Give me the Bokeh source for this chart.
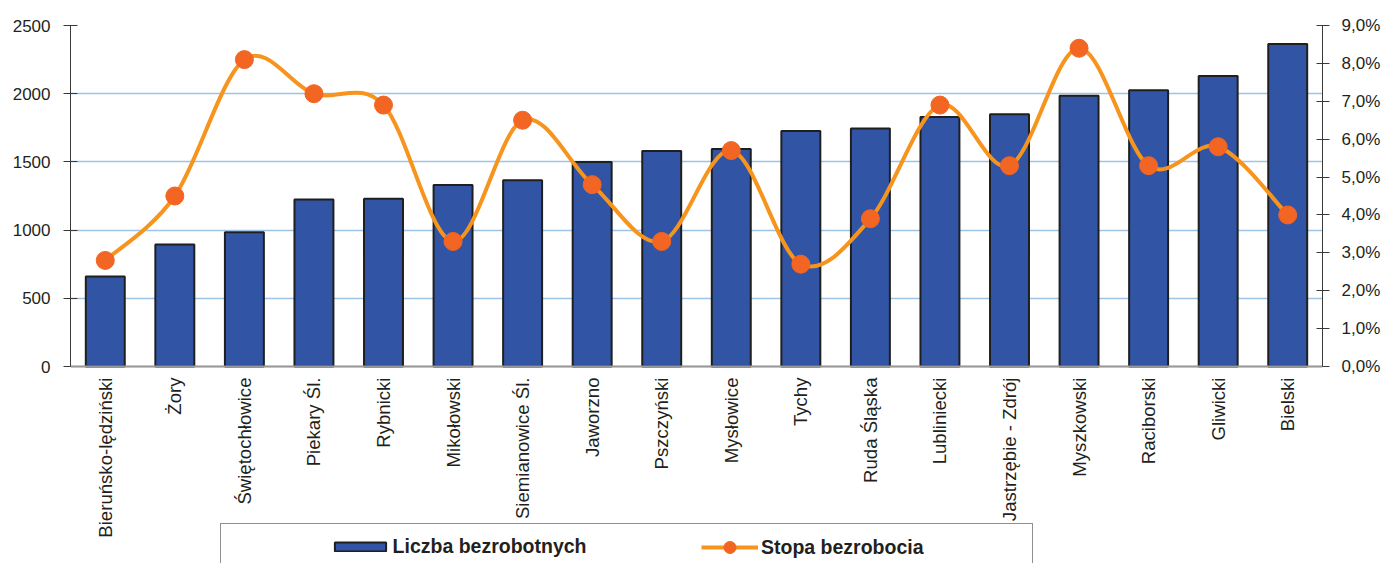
import numpy as np
from bokeh.plotting import figure
from bokeh.models import Range1d, LinearAxis, FixedTicker, Legend, LegendItem, Span
from bokeh.core.properties import value
from bokeh.embed import file_html
from bokeh.resources import INLINE

# ---------------- data ----------------
categories = ["Bieruńsko-lędziński", "Żory", "Świętochłowice", "Piekary Śl.", "Rybnicki",
              "Mikołowski", "Siemianowice Śl.", "Jaworzno", "Pszczyński", "Mysłowice",
              "Tychy", "Ruda Śląska", "Lubliniecki", "Jastrzębie - Zdrój", "Myszkowski",
              "Raciborski", "Gliwicki", "Bielski"]
unemployed = [660, 895, 985, 1225, 1230, 1330, 1365, 1500, 1580, 1595,
              1727, 1744, 1830, 1850, 1985, 2025, 2130, 2365]
rate = [2.8, 4.5, 8.1, 7.2, 6.9, 3.3, 6.5, 4.8, 3.3, 5.7,
        2.7, 3.9, 6.9, 5.3, 8.4, 5.3, 5.8, 4.0]
left_ticks = [0, 500, 1000, 1500, 2000, 2500]
right_ticks = [0, 1, 2, 3, 4, 5, 6, 7, 8, 9]
right_tick_labels = ["0,0%", "1,0%", "2,0%", "3,0%", "4,0%", "5,0%", "6,0%", "7,0%", "8,0%", "9,0%"]
series_names = ["Liczba bezrobotnych", "Stopa bezrobocia"]

FONT = "Liberation Sans"
n = len(categories)
xs = [i + 0.5 for i in range(n)]

# layout: value area spans 341px (top 25 -> 366); the frame continues 197px lower
# so that category labels and the legend can sit beneath the bars
W, H = 1383, 563
top_px, zero_px = 25, 366
ext = (H - zero_px) / (zero_px - top_px)
left_max, right_max = left_ticks[-1], right_ticks[-1]

p = figure(width=W, height=H, x_range=Range1d(0, n),
           y_range=Range1d(-left_max * ext, left_max),
           output_backend="svg", toolbar_location=None, x_axis_location=None,
           min_border_left=70, min_border_right=61, min_border_top=top_px, min_border_bottom=0)
p.outline_line_color = None
p.background_fill_color = "white"
p.border_fill_color = "white"
p.extra_y_ranges = {"rate": Range1d(-right_max * ext, right_max)}

# grid
p.xgrid.visible = False
p.ygrid.ticker = FixedTicker(ticks=left_ticks)
p.ygrid.grid_line_color = "#9dc3e6"
p.ygrid.grid_line_width = 1.6

# left axis
la = p.yaxis[0]
la.ticker = FixedTicker(ticks=left_ticks)
la.bounds = (0, left_max)
la.axis_line_color = "#3a3a3a"
la.major_tick_line_color = "#3a3a3a"
la.major_tick_in = 7
la.major_tick_out = 7
la.minor_tick_line_color = None
la.major_label_text_font = FONT
la.major_label_text_font_size = "17px"
la.major_label_text_color = "#231f20"
la.major_label_standoff = 13

# right axis
ra = LinearAxis(y_range_name="rate", ticker=FixedTicker(ticks=right_ticks),
                major_label_overrides=dict(zip(right_ticks, right_tick_labels)),
                bounds=(0, right_max))
ra.axis_line_color = "#3a3a3a"
ra.major_tick_line_color = "#3a3a3a"
ra.major_tick_in = 6
ra.major_tick_out = 7
ra.minor_tick_line_color = None
ra.major_label_text_font = FONT
ra.major_label_text_font_size = "17px"
ra.major_label_text_color = "#231f20"
ra.major_label_standoff = 12
p.add_layout(ra, "right")

# category baseline
p.add_layout(Span(location=0, dimension="width", line_color="#9a9a9a", line_width=2))

# bars
bars = p.vbar(x=xs, top=unemployed, width=0.56, fill_color="#3155a4",
              line_color="#1f1f1f", line_width=2)

# smoothed line (bezier control points as in spreadsheet smoothing)
px = np.array(xs, dtype=float)
py = np.array(rate, dtype=float)
prev_x = np.concatenate([[px[0]], px[:-1]])
prev_y = np.concatenate([[py[0]], py[:-1]])
next_x = np.concatenate([px[1:], [px[-1]]])
next_y = np.concatenate([py[1:], [py[-1]]])
tx = (next_x - prev_x) / 6.0
ty = (next_y - prev_y) / 6.0
curve = p.bezier(x0=px[:-1], y0=py[:-1], x1=px[1:], y1=py[1:],
                 cx0=px[:-1] + tx[:-1], cy0=py[:-1] + ty[:-1],
                 cx1=px[1:] - tx[1:], cy1=py[1:] - ty[1:],
                 line_color="#f7941d", line_width=4, y_range_name="rate")
pts = p.scatter(x=xs, y=rate, size=18, fill_color="#f26522", line_color="#f26522",
                y_range_name="rate")

# legend frame (box only)
dummy = p.vbar(x=[], top=[], width=0.5, fill_alpha=0, line_alpha=0)
box = Legend(items=[LegendItem(label=" ", renderers=[dummy])], location=(150, -2),
             orientation="horizontal", padding=0, margin=0, spacing=0,
             glyph_width=811, glyph_height=40, label_standoff=0, label_width=0,
             label_height=0, label_text_font_size="1px",
             border_line_color="#231f20", border_line_width=1,
             background_fill_alpha=0)
p.add_layout(box)

# category labels (vertical, reading upwards, ending just under the baseline)
p.text(x=xs, y=[0] * n, text=categories, angle=np.pi / 2, text_align="right",
       text_baseline="middle", y_offset=11, text_font=value(FONT),
       text_font_size="18.6px", text_color="#231f20")

leg1 = Legend(items=[LegendItem(label=series_names[0], renderers=[bars])],
              location=(257.6, 5), orientation="horizontal", padding=0, margin=0,
              glyph_width=64, glyph_height=11, label_standoff=1, label_height=11,
              label_text_font=FONT, label_text_font_size="19.5px", label_text_font_style="bold",
              label_text_color="#231f20", border_line_color=None, background_fill_alpha=0)
p.add_layout(leg1)

leg2 = Legend(items=[LegendItem(label=series_names[1], renderers=[curve, pts])],
              location=(631, 1), orientation="horizontal", padding=0, margin=0,
              glyph_width=57, glyph_height=30, label_standoff=3, label_height=30,
              label_text_font=FONT, label_text_font_size="19.5px", label_text_font_style="bold",
              label_text_color="#231f20", border_line_color=None, background_fill_alpha=0)
p.add_layout(leg2)

open("out.html", "w").write(file_html(p, INLINE))
